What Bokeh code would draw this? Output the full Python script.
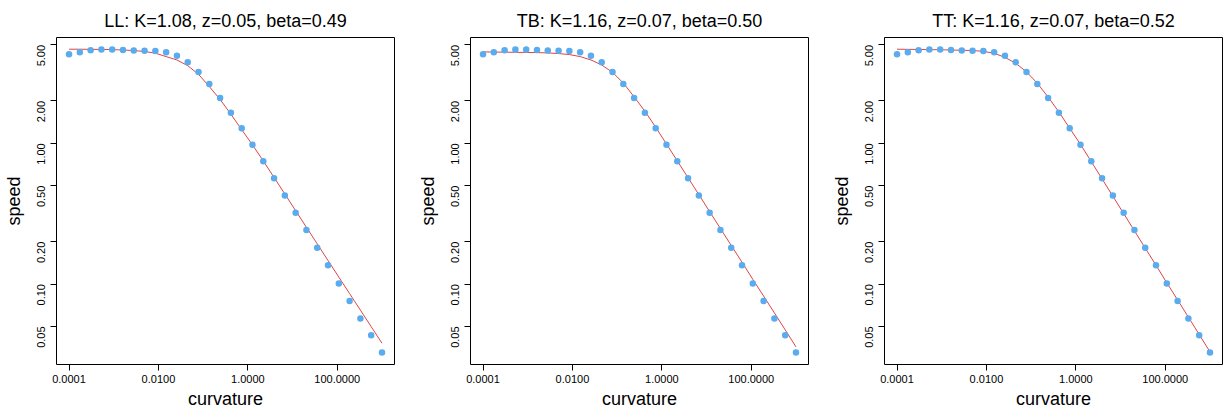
import math
from bokeh.plotting import figure
from bokeh.layouts import row
from bokeh.models import FixedTicker, Range1d
from bokeh.embed import file_html
from bokeh.resources import INLINE

# ---- data ----
curvature = [0.0001, 0.00017433, 0.0003039, 0.0005298, 0.0009237, 0.0016103,
             0.002807, 0.004894, 0.008532, 0.014874, 0.025929, 0.045203,
             0.078805, 0.13738, 0.23950, 0.41753, 0.72790, 1.2690, 2.2122,
             3.857, 6.724, 11.72, 20.43, 35.62, 62.10, 108.27, 188.7, 329.1,
             573.6, 1000.0]

speed = [4.29, 4.43, 4.58, 4.63, 4.63, 4.60, 4.56, 4.54, 4.52, 4.43, 4.18,
         3.77, 3.21, 2.64, 2.10, 1.65, 1.28, 0.978, 0.745, 0.564, 0.425, 0.321,
         0.242, 0.181, 0.136, 0.101, 0.0757, 0.0570, 0.0432, 0.0327]

fit_ll = [4.66, 4.66, 4.65, 4.64, 4.63, 4.60, 4.56, 4.49, 4.37, 4.13, 3.91,
          3.56, 3.09, 2.53, 2.05, 1.61, 1.25, 0.975, 0.750, 0.572, 0.436, 0.332,
          0.253, 0.193, 0.147, 0.112, 0.0856, 0.0653, 0.0498, 0.0380]

fit_tb = [4.46, 4.45, 4.44, 4.43, 4.42, 4.41, 4.385, 4.34, 4.27, 4.13, 3.91,
          3.60, 3.19, 2.68, 2.14, 1.69, 1.30, 0.989, 0.750, 0.569, 0.432, 0.327,
          0.248, 0.188, 0.143, 0.108, 0.0822, 0.0624, 0.0473, 0.0358]

fit_tt = [4.66, 4.65, 4.64, 4.63, 4.62, 4.60, 4.58, 4.56, 4.50, 4.36, 4.08,
          3.70, 3.22, 2.67, 2.13, 1.67, 1.28, 0.983, 0.741, 0.559, 0.421, 0.317,
          0.239, 0.180, 0.136, 0.102, 0.0772, 0.0582, 0.0438, 0.0330]

titles = ["LL: K=1.08, z=0.05, beta=0.49",
          "TB: K=1.16, z=0.07, beta=0.50",
          "TT: K=1.16, z=0.07, beta=0.52"]

x_ticks = [0.0001, 0.01, 1.0, 100.0]
x_tick_labels = ["0.0001", "0.0100", "1.0000", "100.0000"]
y_ticks = [0.05, 0.1, 0.2, 0.5, 1.0, 2.0, 5.0]
y_tick_labels = ["0.05", "0.10", "0.20", "0.50", "1.00", "2.00", "5.00"]

# ---- styling ----
FONT = "Liberation Sans"
DOT = "#5AACEE"
LINE = "#DA4646"


def log_range(vals, pad=0.04):
    lo, hi = math.log10(min(vals)), math.log10(max(vals))
    d = (hi - lo) * pad
    return Range1d(10 ** (lo - d), 10 ** (hi + d))


fits = [fit_ll, fit_tb, fit_tt]
right_borders = [20, 20, 1]
figs = []
for title, fit, rb in zip(titles, fits, right_borders):
    p = figure(frame_width=338, frame_height=327,
               x_axis_type="log", y_axis_type="log",
               x_range=log_range(curvature), y_range=log_range(speed),
               output_backend="svg", toolbar_location=None,
               min_border_left=56, min_border_right=rb,
               min_border_top=37, min_border_bottom=48,
               title=title)
    p.background_fill_color = "white"
    p.border_fill_color = "white"
    p.grid.visible = False
    p.outline_line_color = "black"
    p.outline_line_width = 1
    p.outline_line_alpha = 1

    p.title.text_font = FONT
    p.title.text_font_size = "18px"
    p.title.text_font_style = "normal"
    p.title.text_color = "black"
    p.title.align = "center"
    p.title.standoff = 13

    for ax in (p.xaxis[0], p.yaxis[0]):
        ax.axis_line_color = None
        ax.major_tick_line_color = "black"
        ax.major_tick_out = 6
        ax.major_tick_in = 0
        ax.minor_tick_line_color = None
        ax.major_label_text_font = FONT
        ax.major_label_text_font_size = "11px"
        ax.major_label_text_color = "black"
        ax.major_label_standoff = 4
        ax.axis_label_text_font = FONT
        ax.axis_label_text_font_size = "18px"
        ax.axis_label_text_font_style = "normal"
        ax.axis_label_text_color = "black"

    p.xaxis.ticker = FixedTicker(ticks=x_ticks, minor_ticks=[])
    p.xaxis.major_label_overrides = dict(zip(x_ticks, x_tick_labels))
    p.xaxis.axis_label = "curvature"
    p.xaxis.axis_label_standoff = 3

    p.yaxis.ticker = FixedTicker(ticks=y_ticks, minor_ticks=[])
    p.yaxis.major_label_overrides = dict(zip(y_ticks, y_tick_labels))
    p.yaxis.major_label_orientation = math.pi / 2
    p.yaxis.major_label_standoff = 9
    p.yaxis.axis_label = "speed"
    p.yaxis.axis_label_standoff = 7

    p.line(curvature, fit, line_color=LINE, line_width=1)
    p.scatter(curvature, speed, size=6.5, fill_color=DOT, line_color=None)
    figs.append(p)

layout = row(*figs, spacing=0)
open("out.html", "w").write(file_html(layout, INLINE))
